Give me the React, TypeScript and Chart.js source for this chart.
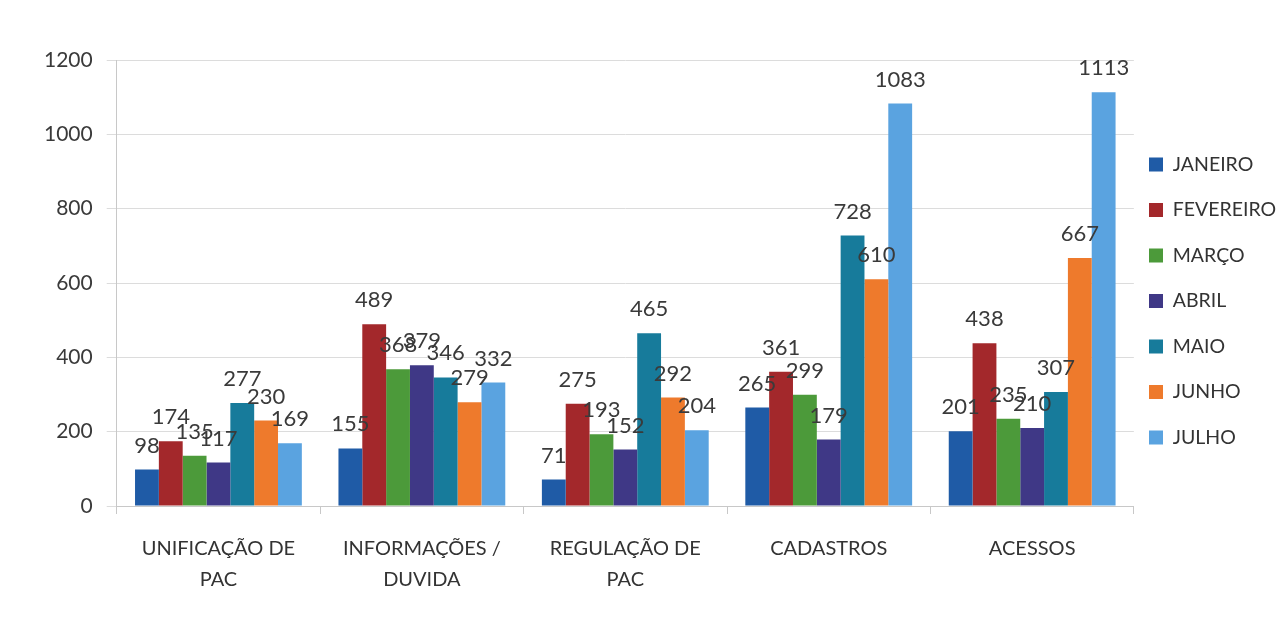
import React, { useEffect, useRef } from "react";
import { Chart, registerables } from "chart.js";

Chart.register(...registerables);

const categories: (string | string[])[] = [
  ["UNIFICAÇÃO DE", "PAC"],
  ["INFORMAÇÕES /", "DUVIDA"],
  ["REGULAÇÃO DE", "PAC"],
  "CADASTROS",
  "ACESSOS",
];

const months = ["JANEIRO", "FEVEREIRO", "MARÇO", "ABRIL", "MAIO", "JUNHO", "JULHO"];

const janeiro = [98, 155, 71, 265, 201];
const fevereiro = [174, 489, 275, 361, 438];
const marco = [135, 368, 193, 299, 235];
const abril = [117, 379, 152, 179, 210];
const maio = [277, 346, 465, 728, 307];
const junho = [230, 279, 292, 610, 667];
const julho = [169, 332, 204, 1083, 1113];

const seriesValues = [janeiro, fevereiro, marco, abril, maio, junho, julho];
const colors = ["#1f5ba6", "#a3282b", "#4c9a3a", "#3f3886", "#177b9b", "#ee7a2c", "#5aa3e0"];

const yTicks = [0, 200, 400, 600, 800, 1000, 1200];

const FONT = "Lato, 'Open Sans', sans-serif";

const valueLabels = {
  id: "valueLabels",
  afterDatasetsDraw(chart: any) {
    const ctx = chart.ctx;
    ctx.save();
    ctx.font = `22px ${FONT}`;
    ctx.fillStyle = "#3a3a3a";
    ctx.textAlign = "center";
    ctx.textBaseline = "bottom";
    chart.data.datasets.forEach((ds: any, i: number) => {
      const meta = chart.getDatasetMeta(i);
      meta.data.forEach((bar: any, j: number) => {
        ctx.fillText(String(ds.data[j]), bar.x, bar.y - 13);
      });
    });
    ctx.restore();
  },
};

const legendPlacer = {
  id: "legendPlacer",
  afterLayout(chart: any) {
    const lg = chart.legend;
    if (!lg) return;
    const dx = 1123 - lg.left;
    const dy = 301 - (lg.top + lg.bottom) / 2;
    lg.left += dx;
    lg.right += dx;
    lg.top += dy;
    lg.bottom += dy;
  },
};

export default function App() {
  const ref = useRef<HTMLCanvasElement | null>(null);
  useEffect(() => {
    if (!ref.current) return;
    const chart = new Chart(ref.current, {
      type: "bar",
      data: {
        labels: categories,
        datasets: months.map((m, i) => ({
          label: m,
          data: seriesValues[i],
          backgroundColor: colors[i],
          borderWidth: 0,
          categoryPercentage: 0.82,
          barPercentage: 1,
        })),
      },
      options: {
        animation: false,
        responsive: true,
        maintainAspectRatio: false,
        layout: { padding: { top: 60, left: 30, right: -10, bottom: 20 } },
        plugins: {
          tooltip: { enabled: false },
          legend: {
            position: "right",
            labels: {
              font: { family: FONT, size: 19.5 },
              color: "#333",
              boxWidth: 14,
              boxHeight: 14,
              padding: 26,
            },
          },
        },
        scales: {
          x: {
            grid: { drawOnChartArea: false, drawTicks: true, tickLength: 8, color: "#c8c8c8" },
            border: { color: "#c8c8c8" },
            ticks: {
              font: { family: FONT, size: 20, lineHeight: 1.55 },
              color: "#333",
              padding: 19,
              maxRotation: 0,
            },
          },
          y: {
            min: 0,
            max: 1200,
            afterBuildTicks: (axis: any) => {
              axis.ticks = yTicks.map((v) => ({ value: v }));
            },
            grid: { color: "#dcdcdc", tickLength: 10 },
            border: { color: "#c8c8c8" },
            ticks: {
              font: { family: FONT, size: 21 },
              color: "#3a3a3a",
              padding: 14,
              callback: (v: any) => String(v),
            },
          },
        },
      },
      plugins: [valueLabels, legendPlacer],
    });
    return () => chart.destroy();
  }, []);
  return (
    <div style={{ position: "fixed", left: 0, top: 0, width: 1287, height: 634, background: "#fff", overflow: "hidden" }}>
      <canvas ref={ref} />
    </div>
  );
}
